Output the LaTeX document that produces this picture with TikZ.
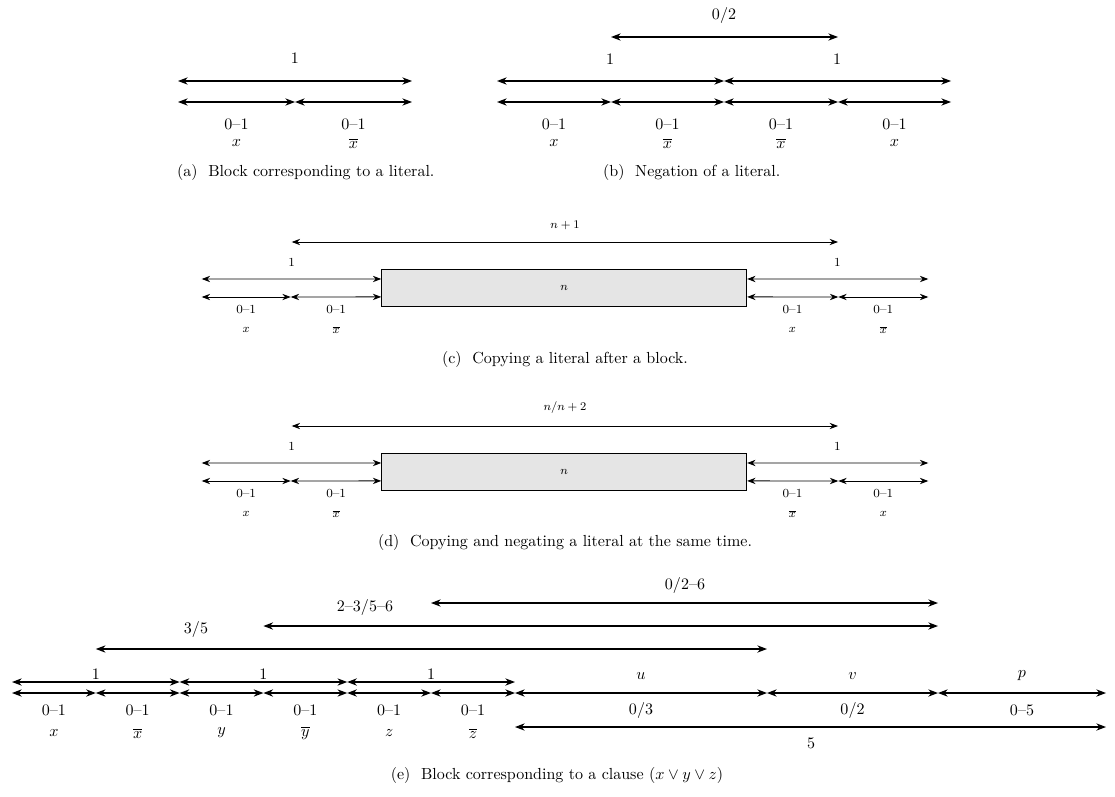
\documentclass[tikz,border=0pt]{standalone}
\usepackage{amsmath}
\usepackage{amssymb}
\usepackage{tikz}
\usetikzlibrary{arrows.meta}

\tikzset{
	dimarr/.style={<->, >={Stealth}, thick},
	sdimarr/.style={<->, >={Stealth}, semithick},
	slab/.style={font=\fontsize{8.4}{10}\selectfont},
	blockbox/.style={draw, semithick, fill=gray!20, minimum width=8.727cm, minimum height=0.885cm, inner sep=0pt, font=\fontsize{8.4}{10}\selectfont},
}

\begin{document}
\begin{tikzpicture}[x=0.2391cm, y=-0.2391cm, font=\fontsize{10.9}{13}\selectfont]
	\useasboundingbox (0,0) rectangle (111.5,79.6);
	% (a)
	\foreach \x [count=\i from 0] in {17.8,29.5,41.2}
		\coordinate (a\i) at (\x,10.2);
	\coordinate (aL) at (17.8,8.1);
	\coordinate (aR) at (41.2,8.1);
	\draw[dimarr] (aL) -- (aR);
	\draw[dimarr] (a0) -- (a1);
	\draw[dimarr] (a1) -- (a2);
	\node (aone) at (29.5,5.8) {1};
	\foreach \x/\v [count=\i] in {23.65/x,35.35/\overline{x}} {
		\node (ad\i) at (\x,12.4) {0--1};
		\node (av\i) at (\x,14.3) {$\v$};
	}
	\node[anchor=west] (acap) at (17.2,17.2) {(a)~~Block corresponding to a literal.};
	% (b)
	\foreach \x [count=\i from 0] in {49.7,61.1,72.4,83.8,95.1}
		\coordinate (b\i) at (\x,10.2);
	\foreach \i/\j in {0/1,1/2,2/3,3/4}
		\draw[dimarr] (b\i) -- (b\j);
	\coordinate (bL) at (49.7,8.1);
	\coordinate (bM) at (72.4,8.1);
	\coordinate (bR) at (95.1,8.1);
	\draw[dimarr] (bL) -- (bM);
	\draw[dimarr] (bM) -- (bR);
	\coordinate (bT1) at (61.1,3.7);
	\coordinate (bT2) at (83.8,3.7);
	\draw[dimarr] (bT1) -- (bT2);
	\node (bneg) at (72.4,1.5) {0/2};
	\node (bone1) at (61.0,5.9) {1};
	\node (bone2) at (83.7,5.9) {1};
	\foreach \x/\v [count=\i] in {55.4/x,66.75/\overline{x},78.1/\overline{x},89.45/x} {
		\node (bd\i) at (\x,12.4) {0--1};
		\node (bv\i) at (\x,14.3) {$\v$};
	}
	\node[anchor=west] (bcap) at (59.8,17.2) {(b)~~Negation of a literal.};
	% (c)
	\node[blockbox] (cbox) at (56.42,28.78) {$n$};
	\coordinate (c0) at (20.17,29.7);
	\coordinate (c1) at (29.07,29.7);
	\coordinate (c3) at (83.83,29.7);
	\coordinate (c4) at (92.83,29.7);
	\coordinate (cL) at (20.17,27.9);
	\coordinate (cR) at (92.83,27.9);
	\coordinate (cT1) at (29.17,24.2);
	\coordinate (cT2) at (83.8,24.2);
	\draw[sdimarr] (cT1) -- (cT2);
	\draw[sdimarr] (cL) -- ([yshift=6pt]cbox.west);
	\draw[sdimarr] (c0) -- (c1);
	\draw[sdimarr] (c1) -- ([yshift=-6.2pt]cbox.west);
	\draw[sdimarr] ([yshift=6pt]cbox.east) -- (cR);
	\draw[sdimarr] ([yshift=-6.2pt]cbox.east) -- (c3);
	\draw[sdimarr] (c3) -- (c4);
	\node[slab] (cnp) at (56.5,22.5) {$n+1$};
	\node[slab] (cone1) at (29.17,26.2) {1};
	\node[slab] (cone2) at (83.75,26.2) {1};
	\foreach \x/\v [count=\i] in {24.62/x,33.62/\overline{x},79.25/x,88.33/\overline{x}} {
		\node[slab] (cd\i) at (\x,31.0) {0--1};
		\node[slab] (cv\i) at (\x,33.0) {$\v$};
	}
	\node (ccap) at (56.5,35.9) {(c)~~Copying a literal after a block.};
	% (d)
	\node[blockbox] (dbox) at (56.42,47.18) {$n$};
	\coordinate (d0) at (20.17,48.1);
	\coordinate (d1) at (29.07,48.1);
	\coordinate (d3) at (83.83,48.1);
	\coordinate (d4) at (92.83,48.1);
	\coordinate (dL) at (20.17,46.3);
	\coordinate (dR) at (92.83,46.3);
	\coordinate (dT1) at (29.17,42.6);
	\coordinate (dT2) at (83.8,42.6);
	\draw[sdimarr] (dT1) -- (dT2);
	\draw[sdimarr] (dL) -- ([yshift=6pt]dbox.west);
	\draw[sdimarr] (d0) -- (d1);
	\draw[sdimarr] (d1) -- ([yshift=-6.2pt]dbox.west);
	\draw[sdimarr] ([yshift=6pt]dbox.east) -- (dR);
	\draw[sdimarr] ([yshift=-6.2pt]dbox.east) -- (d3);
	\draw[sdimarr] (d3) -- (d4);
	\node[slab] (dnp) at (56.5,40.8) {$n/n+2$};
	\node[slab] (done1) at (29.17,44.6) {1};
	\node[slab] (done2) at (83.75,44.6) {1};
	\foreach \x/\v [count=\i] in {24.62/x,33.62/\overline{x},79.25/\overline{x},88.33/x} {
		\node[slab] (dd\i) at (\x,49.4) {0--1};
		\node[slab] (dv\i) at (\x,51.4) {$\v$};
	}
	\node (dcap) at (56.5,54.2) {(d)~~Copying and negating a literal at the same time.};
	% (e)
	\foreach \x [count=\i from 0] in {1.2,9.58,17.96,26.34,34.72,43.1,51.5,76.7,93.8,110.6}
		\coordinate (e\i) at (\x,69.3);
	\foreach \i/\j in {0/1,1/2,2/3,3/4,4/5,5/6,6/7,7/8,8/9}
		\draw[dimarr] (e\i) -- (e\j);
	\foreach \x [count=\i from 0] in {1.2,17.96,34.72,51.5}
		\coordinate (f\i) at (\x,68.2);
	\foreach \i/\j in {0/1,1/2,2/3}
		\draw[dimarr] (f\i) -- (f\j);
	\coordinate (g1) at (9.58,64.9);
	\coordinate (g2) at (76.7,64.9);
	\coordinate (h1) at (26.34,62.6);
	\coordinate (h2) at (93.8,62.6);
	\coordinate (k1) at (43.1,60.3);
	\coordinate (k2) at (93.8,60.3);
	\coordinate (m1) at (51.5,72.7);
	\coordinate (m2) at (110.6,72.7);
	\draw[dimarr] (g1) -- (g2);
	\draw[dimarr] (h1) -- (h2);
	\draw[dimarr] (k1) -- (k2);
	\draw[dimarr] (m1) -- (m2);
	\node (glab) at (19.6,62.9) {3/5};
	\node (hlab) at (36.5,60.7) {2--3/5--6};
	\node (klab) at (68.5,58.5) {0/2--6};
	\node (mlab) at (81.1,74.3) {5};
	\foreach \x [count=\i] in {9.58,26.34,43.1}
		\node (fone\i) at (\x,67.4) {1};
	\foreach \x/\v [count=\i] in {5.39/x,13.77/\overline{x},22.15/y,30.53/\overline{y},38.91/z,47.3/\overline{z}} {
		\node (ed\i) at (\x,71.0) {0--1};
		\node (ev\i) at (\x,73.3) {$\v$};
	}
	\foreach \x/\v/\w [count=\i] in {64.1/u/0\slash3,85.25/v/0\slash2,102.2/p/0--5} {
		\node (en\i) at (\x,67.6) {$\v$};
		\node (ew\i) at (\x,71.0) {\w};
	}
	\node (ecap) at (55.7,77.5) {(e)~~Block corresponding to a clause $(x \vee y \vee z)$};
\end{tikzpicture}
\end{document}
